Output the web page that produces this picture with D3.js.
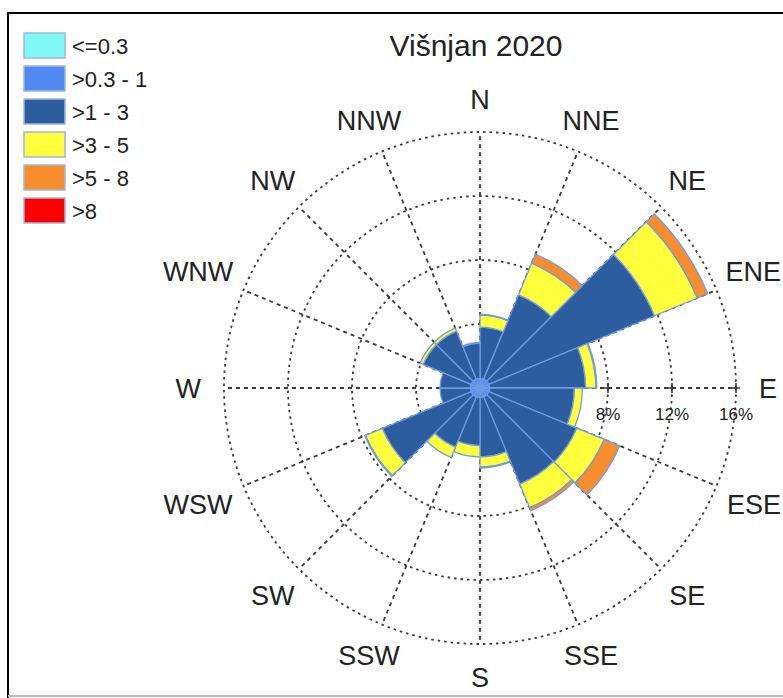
<!DOCTYPE html>
<html>
<head>
<meta charset="utf-8">
<script src="https://cdn.jsdelivr.net/npm/d3@7"></script>
<style>
  body { margin: 0; background: #fff; }
  text { font-family: "Liberation Sans", Arial, sans-serif; fill: #222; }
</style>
</head>
<body>
<svg class="chart"></svg>
<script>
// sector i spans from directions[i] clockwise to the next direction
let directions = ['N', 'NNE', 'NE', 'ENE', 'E', 'ESE', 'SE', 'SSE',
                  'S', 'SSW', 'SW', 'WSW', 'W', 'WNW', 'NW', 'NNW']

// frequency (%) per speed class
let calm   = [0, 0, 0, 0, 0, 0, 0, 0, 0, 0, 0, 0, 0, 0, 0, 0]
let s03_1  = [0.6, 0.6, 0.6, 0.6, 0.6, 0.6, 0.6, 0.6, 0.6, 0.6, 0.6, 0.6, 0.6, 0.6, 0.6, 0.6]
let s1_3   = [3.2, 5.7, 11.2, 6.0, 5.3, 5.95, 5.9, 3.7, 3.0, 3.4, 6.0, 1.9, 1.9, 3.25, 3.25, 2.2]
let s3_5   = [0.75, 2.15, 2.9, 0.65, 0.5, 1.85, 1.6, 0.65, 0.7, 0.7, 1.15, 0, 0, 0.2, 0.2, 0.05]
let s5_8   = [0.05, 0.6, 0.7, 0.05, 0, 1.05, 0.2, 0.05, 0, 0, 0.05, 0, 0, 0, 0, 0]
let s8     = [0, 0, 0, 0, 0, 0, 0, 0, 0, 0, 0, 0, 0, 0, 0, 0]

let classes = ['<=0.3', '>0.3 - 1', '>1 - 3', '>3 - 5', '>5 - 8', '>8']
let colors = ['#80f8f6', '#5089f0', '#2c5d9f', '#ffff3c', '#f98d2e', '#ff0000']
let rings = [4, 8, 12, 16]
let title = 'Višnjan 2020'

let width = 783,
    height = 698,
    cx = 480,
    cy = 388,
    maxR = 256,
    labelGap = 279

let series = [calm, s03_1, s1_3, s3_5, s5_8, s8]
let rows = directions.map((d, i) => {
    let row = {dir: d, i: i}
    classes.forEach((c, k) => row[c] = series[k][i])
    return row
})

let r = d3.scaleLinear().domain([0, 16]).range([0, maxR])
let angle = d3.scaleLinear().domain([0, 16]).range([0, 2 * Math.PI])
let color = d3.scaleOrdinal().domain(classes).range(colors)
let stacked = d3.stack().keys(classes)(rows)

let chart = d3.select('.chart')
    .attr('width', width)
    .attr('height', height)

chart.append('path')
    .attr('d', 'M8,700 L8,13 L790,13')
    .attr('fill', 'none')
    .attr('stroke', '#000')
    .attr('stroke-width', 2)
chart.append('line')
    .attr('x1', 8).attr('x2', 790)
    .attr('y1', 696).attr('y2', 696)
    .attr('stroke', '#bbb')
    .attr('stroke-width', 2)

let g = chart.append('g').attr('transform', `translate(${cx},${cy})`)

// grid
g.selectAll('.ring')
    .data(rings)
  .enter().append('circle')
    .attr('r', (d) => r(d))
    .attr('fill', 'none')
    .attr('stroke', '#3a3a3a')
    .attr('stroke-width', 1.8)
    .attr('stroke-dasharray', '2.5,4')

g.selectAll('.spoke')
    .data(directions)
  .enter().append('line')
    .attr('x2', (d, i) => maxR * Math.sin(angle(i)))
    .attr('y2', (d, i) => -maxR * Math.cos(angle(i)))
    .attr('stroke', '#3a3a3a')
    .attr('stroke-width', 1.8)
    .attr('stroke-dasharray', '4,4')

g.selectAll('.tick')
    .data(rings)
  .enter().append('path')
    .attr('d', (d) => `M${r(d)},-5 L${r(d)},5 M${r(d) - 4},0 L${r(d) + 4},0`)
    .attr('stroke', '#333')
    .attr('stroke-width', 1.5)

// petals
let arc = d3.arc()
    .innerRadius((d) => r(d[0]))
    .outerRadius((d) => r(d[1]))
    .startAngle((d) => angle(d.data.i))
    .endAngle((d) => angle(d.data.i + 1))

g.selectAll('.layer')
    .data(stacked)
  .enter().append('g')
    .attr('fill', (d) => color(d.key))
  .selectAll('path')
    .data((d) => d.filter((p) => p[1] > p[0]))
  .enter().append('path')
    .attr('d', arc)
    .attr('stroke', '#6f9be6')
    .attr('stroke-width', 1.3)

g.selectAll('.pct')
    .data(rings.slice(1))
  .enter().append('text')
    .attr('x', (d) => r(d))
    .attr('y', 32)
    .attr('text-anchor', 'middle')
    .style('font-size', '17px')
    .text((d) => d + '%')

// direction labels: keep the near edge of each label at labelGap
g.selectAll('.dir')
    .data(directions)
  .enter().append('text')
    .attr('dy', '0.36em')
    .attr('text-anchor', 'middle')
    .style('font-size', '27px')
    .text((d) => d)
    .each(function(d, i) {
        let a = angle(i),
            s = Math.abs(Math.sin(a)),
            c = Math.abs(Math.cos(a)),
            hw = this.getComputedTextLength() / 2,
            hh = 10,
            ext = Math.min(s > 1e-6 ? hw / s : 1e9, c > 1e-6 ? hh / c : 1e9),
            dist = labelGap + ext,
            x = Math.min(dist * Math.sin(a), width - cx - 2 - hw)
        d3.select(this)
            .attr('x', x)
            .attr('y', -dist * Math.cos(a))
    })

chart.append('text')
    .attr('x', 476)
    .attr('y', 56)
    .attr('text-anchor', 'middle')
    .style('font-size', '30px')
    .text(title)

// legend
let legend = chart.selectAll('.legend')
    .data(classes)
  .enter().append('g')
    .attr('transform', (d, i) => `translate(24,${33 + i * 33})`)

legend.append('rect')
    .attr('width', 41)
    .attr('height', 25)
    .attr('fill', (d) => color(d))
    .attr('stroke', '#9fb6dd')
    .attr('stroke-width', 1.5)

legend.append('text')
    .attr('x', 48)
    .attr('y', 21)
    .style('font-size', '22px')
    .text((d) => d)
</script>
</body>
</html>
